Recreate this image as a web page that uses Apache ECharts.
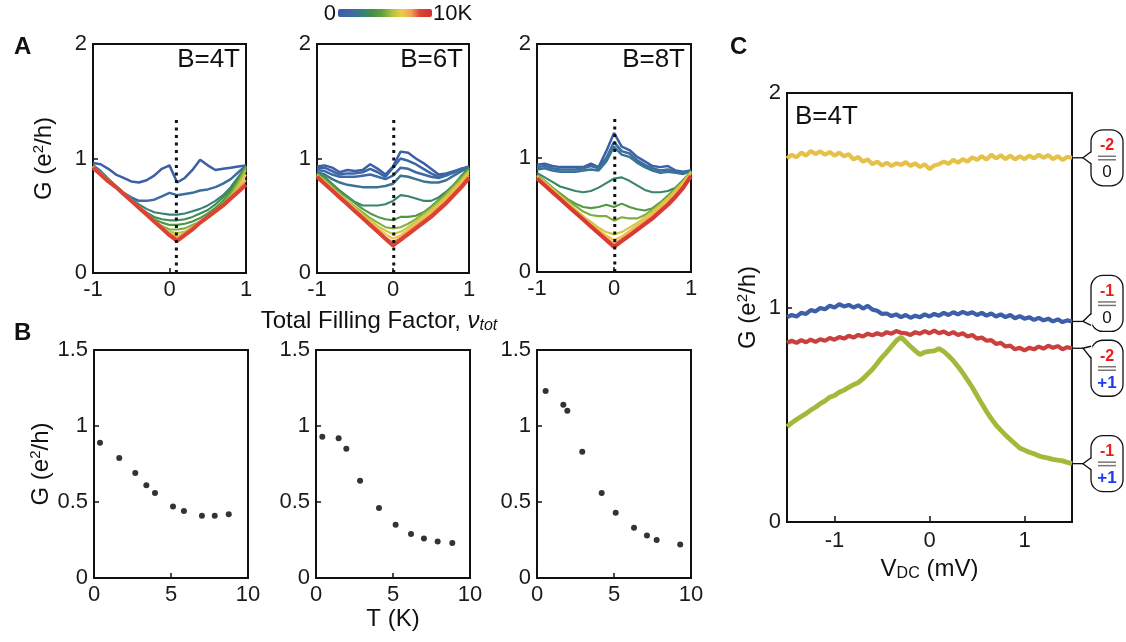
<!DOCTYPE html>
<html><head><meta charset="utf-8">
<script src="https://cdn.jsdelivr.net/npm/echarts@6/dist/echarts.min.js"></script>
<style>html,body{margin:0;padding:0;background:#fff}#c{width:1126px;height:642px}</style>
</head><body><div id="c"></div>
<script>
// ---------------- DATA ----------------
const A_NU = [-1,-0.9,-0.8,-0.7,-0.6,-0.5,-0.4,-0.3,-0.2,-0.1,0,0.1,0.2,0.3,0.4,0.5,0.6,0.7,0.8,0.9,1];
const A_FIELDS = ['B=4T','B=6T','B=8T'];
const A_DOT_NU = [0.09, 0.01, 0.01];
const A_DOT_TOP = 1.35;

const A1_T = [0.4,1.6,2.7,3.4,4.0,5.1,5.8,7.0,7.8,8.8];
const A1_G = [
 [.96,.95,.91,.86,.83,.80,.79,.81,.85,.91,.94,.79,.83,.90,.99,.94,.90,.91,.92,.93,.94],
 [.94,.89,.82,.75,.70,.66,.63,.63,.64,.67,.70,.68,.69,.70,.72,.73,.75,.78,.82,.88,.94],
 [.93,.88,.82,.76,.70,.65,.60,.56,.53,.52,.51,.51,.52,.54,.56,.59,.63,.68,.75,.84,.93],
 [.93,.88,.82,.76,.70,.64,.58,.53,.49,.47,.46,.46,.47,.49,.52,.55,.60,.66,.73,.82,.93],
 [.93,.87,.81,.76,.70,.64,.58,.52,.47,.44,.42,.42,.43,.45,.48,.52,.57,.63,.71,.81,.93],
 [.93,.87,.81,.76,.70,.64,.58,.52,.46,.41,.38,.38,.39,.42,.45,.50,.55,.61,.69,.80,.92],
 [.93,.87,.81,.75,.70,.64,.58,.52,.46,.40,.36,.35,.36,.40,.44,.48,.53,.59,.67,.77,.90],
 [.93,.87,.81,.75,.69,.63,.58,.52,.46,.40,.35,.32,.35,.39,.43,.48,.53,.58,.65,.74,.86],
 [.93,.87,.81,.75,.69,.63,.57,.51,.45,.39,.34,.30,.35,.40,.45,.50,.55,.60,.66,.73,.81],
 [.92,.86,.80,.75,.69,.63,.57,.51,.45,.39,.33,.28,.33,.38,.44,.49,.54,.59,.65,.71,.77]
];
const A2_T = [0.4,1.0,1.5,2.0,2.9,4.1,5.2,6.2,7.0,7.9,8.9];
const A2_G = [
 [.93,.94,.92,.88,.90,.89,.90,.95,.91,.86,.93,1.06,1.05,1.00,.96,.91,.86,.87,.89,.91,.92],
 [.92,.92,.89,.86,.87,.87,.88,.91,.88,.84,.92,1.00,.98,.95,.91,.87,.84,.86,.88,.91,.92],
 [.90,.89,.86,.84,.84,.84,.85,.86,.84,.82,.85,.92,.91,.88,.86,.84,.83,.85,.88,.91,.93],
 [.88,.86,.82,.79,.77,.76,.75,.75,.75,.76,.78,.85,.84,.82,.80,.79,.79,.81,.85,.89,.92],
 [.87,.84,.78,.72,.67,.62,.59,.59,.59,.60,.63,.68,.67,.65,.63,.63,.66,.71,.77,.85,.92],
 [.87,.83,.77,.71,.66,.61,.56,.52,.49,.47,.46,.49,.49,.50,.53,.58,.64,.70,.77,.84,.91],
 [.86,.81,.75,.69,.63,.58,.53,.48,.44,.40,.39,.40,.43,.47,.52,.57,.63,.69,.76,.83,.90],
 [.86,.80,.74,.68,.62,.57,.51,.46,.41,.37,.34,.36,.40,.45,.50,.55,.61,.67,.74,.81,.89],
 [.85,.80,.74,.68,.62,.56,.50,.44,.39,.34,.30,.33,.38,.43,.48,.53,.59,.65,.72,.79,.87],
 [.85,.79,.73,.67,.61,.55,.49,.43,.37,.31,.27,.31,.36,.41,.46,.51,.57,.63,.70,.77,.85],
 [.84,.78,.72,.66,.60,.54,.48,.42,.36,.30,.24,.29,.34,.39,.44,.49,.55,.61,.68,.75,.83]
];
const A3_T = [0.6,1.7,2.0,2.9,4.2,5.1,6.3,7.1,7.8,9.3];
const A3_G = [
 [.94,.95,.93,.92,.92,.92,.92,.95,.92,1.06,1.22,1.10,1.07,1.01,.97,.93,.92,.93,.89,.88,.89],
 [.92,.93,.91,.90,.90,.90,.91,.93,.91,1.00,1.14,1.06,1.04,.98,.94,.91,.89,.90,.88,.87,.89],
 [.90,.91,.89,.88,.88,.88,.89,.90,.89,.97,1.10,1.03,1.01,.96,.92,.89,.87,.88,.87,.86,.89],
 [.87,.83,.79,.75,.73,.71,.70,.71,.74,.78,.82,.83,.80,.76,.72,.70,.70,.71,.74,.80,.89],
 [.85,.80,.74,.69,.64,.60,.57,.56,.57,.59,.57,.60,.57,.55,.54,.56,.61,.67,.74,.81,.88],
 [.85,.80,.74,.68,.63,.58,.53,.50,.49,.49,.45,.48,.47,.47,.50,.55,.60,.66,.73,.80,.88],
 [.84,.79,.73,.67,.61,.55,.49,.44,.39,.35,.33,.35,.39,.43,.48,.53,.59,.65,.72,.79,.88],
 [.84,.78,.72,.66,.60,.54,.48,.42,.37,.32,.28,.31,.36,.41,.46,.51,.57,.63,.70,.78,.87],
 [.83,.77,.71,.65,.59,.53,.47,.41,.35,.30,.25,.29,.34,.39,.44,.49,.55,.61,.68,.76,.86],
 [.82,.76,.70,.64,.58,.52,.46,.40,.34,.28,.22,.27,.32,.37,.42,.47,.53,.59,.66,.74,.84]
];

const B1_T = [0.39,1.64,2.68,3.40,3.96,5.13,5.84,7.01,7.84,8.75];
const B1_G = [0.89,0.79,0.69,0.61,0.56,0.47,0.44,0.41,0.41,0.42];
const B2_T = [0.41,1.47,1.97,2.86,4.09,5.17,6.17,7.01,7.90,8.85];
const B2_G = [0.93,0.92,0.85,0.64,0.46,0.35,0.29,0.26,0.24,0.23];
const B3_T = [0.56,1.71,1.97,2.94,4.20,5.11,6.30,7.14,7.77,9.30];
const B3_G = [1.23,1.14,1.10,0.83,0.56,0.43,0.33,0.28,0.25,0.22];

const C_V = [-1.5,-1.45,-1.4,-1.35,-1.3,-1.25,-1.2,-1.15,-1.1,-1.05,
 -1.0,-0.95,-0.9,-0.85,-0.8,-0.75,-0.7,-0.65,-0.6,-0.55,
 -0.5,-0.45,-0.4,-0.35,-0.3,-0.25,-0.2,-0.15,-0.1,-0.05,
 0,0.05,0.1,0.15,0.2,0.25,0.3,0.35,0.4,0.45,
 0.5,0.55,0.6,0.65,0.7,0.75,0.8,0.85,0.9,0.95,
 1.0,1.05,1.1,1.15,1.2,1.25,1.3,1.35,1.4,1.45,1.5];
const C_YELLOW = [1.695,1.712,1.700,1.722,1.708,1.730,1.715,1.728,1.712,1.725,
 1.708,1.722,1.705,1.715,1.690,1.702,1.680,1.690,1.668,1.680,
 1.662,1.675,1.660,1.672,1.665,1.678,1.660,1.672,1.655,1.668,
 1.645,1.662,1.668,1.680,1.670,1.688,1.675,1.692,1.680,1.700,
 1.688,1.705,1.690,1.712,1.695,1.710,1.692,1.708,1.690,1.705,
 1.692,1.708,1.695,1.712,1.698,1.710,1.692,1.705,1.688,1.702,1.698];
const C_BLUE = [.955,.965,.958,.975,.970,.988,.982,.998,.992,1.008,
 1.000,1.015,1.005,1.012,1.000,1.010,.995,1.008,.990,.985,
 .970,.972,.960,.968,.955,.965,.952,.962,.955,.968,
 .958,.970,.962,.975,.965,.978,.968,.980,.970,.978,
 .965,.975,.962,.972,.958,.968,.955,.965,.950,.960,
 .948,.955,.942,.952,.940,.948,.935,.945,.932,.940,.935];
const C_RED = [.835,.845,.835,.848,.838,.850,.840,.852,.845,.858,
 .850,.862,.855,.868,.860,.872,.865,.878,.870,.880,
 .872,.885,.878,.890,.882,.880,.872,.885,.878,.890,
 .880,.892,.880,.888,.875,.885,.872,.880,.865,.872,
 .855,.860,.845,.848,.830,.835,.818,.822,.805,.812,
 .800,.812,.805,.818,.808,.822,.812,.820,.805,.815,.810];
const C_GREEN = [.445,.462,.478,.492,.505,.522,.535,.552,.565,.582,
 .590,.605,.615,.628,.640,.650,.668,.690,.712,.740,
 .768,.792,.818,.845,.862,.840,.818,.798,.780,.792,
 .795,.798,.808,.795,.775,.752,.725,.695,.662,.628,
 .590,.552,.515,.482,.452,.428,.405,.385,.365,.345,
 .335,.325,.318,.308,.302,.298,.292,.288,.285,.278,.272];
const C_LABELS = [['-2','0'],['-1','0'],['-2','+1'],['-1','+1']];
const C_FIELD = 'B=4T';

// ---------------- STYLE ----------------
const FONT = "'Liberation Sans', Arial, Helvetica, sans-serif";
const TICK_FS = 22, TITLE_FS = 24;
const T_MAX = 10;
const CMAP = [[0,'#3b5ba9'],[0.15,'#3d6aa6'],[0.25,'#357f80'],[0.35,'#3f8f4a'],[0.47,'#62a040'],
  [0.58,'#b3c23c'],[0.68,'#eccb4a'],[0.78,'#eea052'],[0.87,'#dc4436'],[1,'#d62f2f']];
function hex2rgb(h){return [1,3,5].map(i=>parseInt(h.substr(i,2),16));}
function cmap(t){
  t=Math.max(0,Math.min(1,t));
  for(let i=1;i<CMAP.length;i++){
    if(t<=CMAP[i][0]){
      const a=CMAP[i-1],b=CMAP[i],f=(t-a[0])/(b[0]-a[0]);
      const ca=hex2rgb(a[1]),cb=hex2rgb(b[1]);
      return 'rgb('+ca.map((v,k)=>Math.round(v+(cb[k]-v)*f)).join(',')+')';
    }
  }
  return CMAP[CMAP.length-1][1];
}
const C_COLORS = ['#e6c14a','#3d5fa9','#c9403f','#a3b93a'];
const C_WIDTHS = [4.2,4.2,4.2,4.8];
const BUBBLE_DY = [0,-18,20,0];

const GRIDS = [
 {left:93, top:44, width:153, height:229},
 {left:317,top:44, width:152, height:229},
 {left:537,top:44, width:154, height:228},
 {left:94, top:350,width:154, height:228},
 {left:316,top:350,width:154, height:228},
 {left:537,top:350,width:154, height:228},
 {left:787,top:93, width:285, height:429}
];

const chart = echarts.init(document.getElementById('c'));
const richG = {sup:{fontSize:15, fontFamily:FONT, color:'#111', padding:[0,0,11,0]}};
const nameStyle = (rich)=>({fontSize:TITLE_FS, fontFamily:FONT, color:'#111', rich});
function ax(gi, min, max, interval, extra){
  const o = {type:'value', gridIndex:gi, min, max, interval,
    splitLine:{show:false},
    axisLine:{show:true, onZero:false, lineStyle:{color:'#111', width:2}},
    axisTick:{show:true, inside:true, length:5, lineStyle:{color:'#111', width:1.5}},
    axisLabel:{color:'#1a1a1a', fontSize:TICK_FS, fontFamily:FONT, margin:6}};
  return Object.assign(o, extra||{});
}
const xAxis=[], yAxis=[], series=[];
const grid = GRIDS.map(g=>Object.assign({show:true, borderColor:'#111', borderWidth:2, containLabel:false}, g));

// Panel A
const AT=[A1_T,A2_T,A3_T], AG=[A1_G,A2_G,A3_G];
for(let p=0;p<3;p++){
  xAxis.push(ax(p,-1,1,1));
  yAxis.push(ax(p,0,2,1, p===0?{name:'G (e{sup|2}/h)', nameLocation:'middle', nameGap:36, nameRotate:90,
     nameTextStyle:nameStyle(richG)}:{}));
  const Ts=AT[p], Gs=AG[p];
  Gs.forEach((row,i)=>{
    const last = i===Gs.length-1;
    series.push({type:'line', xAxisIndex:p, yAxisIndex:p, showSymbol:false, silent:true,
      data:A_NU.map((x,j)=>[x,row[j]]),
      lineStyle:{width:last?4:(Ts[i]<2.2?2.5:2.1), color:cmap(Ts[i]/T_MAX)}, itemStyle:{color:cmap(Ts[i]/T_MAX)}});
  });
  series.push({type:'line', xAxisIndex:p, yAxisIndex:p, showSymbol:false, silent:true, z:5,
    data:[[A_DOT_NU[p],0],[A_DOT_NU[p],A_DOT_TOP]],
    lineStyle:{color:'#111', width:3, type:[3,4.5]}});
}
// Panel B
const BT=[B1_T,B2_T,B3_T], BG=[B1_G,B2_G,B3_G];
for(let p=0;p<3;p++){
  const gi=3+p;
  xAxis.push(ax(gi,0,10,5, p===1?{name:'T (K)', nameLocation:'middle', nameGap:29,
     nameTextStyle:nameStyle()}:{}));
  yAxis.push(ax(gi,0,1.5,0.5, p===0?{name:'G (e{sup|2}/h)', nameLocation:'middle', nameGap:40, nameRotate:90,
     nameTextStyle:nameStyle(richG)}:{}));
  series.push({type:'scatter', xAxisIndex:gi, yAxisIndex:gi, symbolSize:6, silent:true,
    itemStyle:{color:'#000'}, data:BT[p].map((t,j)=>[t,BG[p][j]])});
}
// Panel C
xAxis.push(ax(6,-1.5,1.5,0.5,{name:'V{sub|DC} (mV)', nameLocation:'middle', nameGap:33,
  nameTextStyle:nameStyle({sub:{fontSize:16, fontFamily:FONT, color:'#111', padding:[10,0,0,0]}}),
  axisLabel:{color:'#1a1a1a', fontSize:TICK_FS, fontFamily:FONT, margin:8, customValues:[-1,0,1]},
  axisTick:{show:true, inside:true, length:6, lineStyle:{color:'#111', width:1.5}, customValues:[-1,0,1]}}));
yAxis.push(ax(6,0,2,1,{name:'G (e{sup|2}/h)', nameLocation:'middle', nameGap:26, nameRotate:90,
  nameTextStyle:nameStyle(richG)}));
const C_SER=[C_YELLOW,C_BLUE,C_RED,C_GREEN];
C_SER.forEach((arr,k)=>{
  series.push({type:'line', xAxisIndex:6, yAxisIndex:6, showSymbol:false, silent:true,
    data:C_V.map((v,j)=>[v,arr[j]]), lineStyle:{width:C_WIDTHS[k], color:C_COLORS[k]}, itemStyle:{color:C_COLORS[k]}});
});

chart.setOption({animation:false, backgroundColor:'#fff', grid, xAxis, yAxis, series});

// ---------------- Graphic overlays ----------------
const gr=[];
function txt(x,y,text,font,align,va,extra){gr.push({type:'text', x, y, silent:true, z:100,
  style:Object.assign({text, font, fill:'#111', align, verticalAlign:va}, extra||{})});}
txt(14,35,'A','bold 24px '+FONT,'left','top');
txt(14,321,'B','bold 24px '+FONT,'left','top');
txt(730,35,'C','bold 24px '+FONT,'left','top');
for(let p=0;p<3;p++){
  const g=GRIDS[p];
  txt(g.left+g.width-6, g.top+3, A_FIELDS[p], '26px '+FONT, 'right','top');
}
txt(GRIDS[6].left+8, GRIDS[6].top+11, C_FIELD, '26px '+FONT, 'left','top');
txt(379,321,'Total Filling Factor, {nu|ν}{sub|tot}',TITLE_FS+'px '+FONT,'center','middle',
  {rich:{nu:{font:'italic '+TITLE_FS+'px '+FONT, fill:'#111'}, sub:{font:'italic 16px '+FONT, fill:'#111', padding:[10,0,0,0]}}});
// colorbar
gr.push({type:'rect', silent:true, z:100, shape:{x:338,y:9,width:94,height:8,r:2},
  style:{fill:new echarts.graphic.LinearGradient(0,0,1,0, CMAP.map(s=>({offset:s[0],color:s[1]})))}});
txt(336,14,'0','22px '+FONT,'right','middle');
txt(433,14,'10K','22px '+FONT,'left','middle');

// bubbles on panel C
const bx0=1091, bw=32, bh=56;
C_SER.forEach((arr,k)=>{
  const end = chart.convertToPixel({gridIndex:6},[C_V[C_V.length-1], arr[arr.length-1]]);
  const ye=end[1], yc=ye+BUBBLE_DY[k];
  const yb=Math.max(yc-16,Math.min(yc+16,ye));
  gr.push({type:'rect', silent:true, z:100, shape:{x:bx0,y:yc-bh/2,width:bw,height:bh,r:12},
    style:{fill:'#fff', stroke:'#111', lineWidth:1.3}});
  gr.push({type:'polygon', silent:true, z:101, shape:{points:[[1083,ye],[bx0+1.5,yb-6],[bx0+1.5,yb+6]]},
    style:{fill:'#fff', stroke:null}});
  gr.push({type:'polyline', silent:true, z:102, shape:{points:[[bx0,yb-6],[1083,ye],[bx0,yb+6]]},
    style:{stroke:'#111', lineWidth:1.3, fill:null}});
  gr.push({type:'line', silent:true, z:102, shape:{x1:end[0],y1:ye,x2:1083,y2:ye}, style:{stroke:'#111', lineWidth:1.3}});
  const cx=bx0+bw/2;
  gr.push({type:'line', silent:true, z:102, shape:{x1:cx-9,y1:yc-1.5,x2:cx+9,y2:yc-1.5}, style:{stroke:'#777', lineWidth:1.5}});
  gr.push({type:'line', silent:true, z:102, shape:{x1:cx-9,y1:yc+2,x2:cx+9,y2:yc+2}, style:{stroke:'#777', lineWidth:1.5}});
  txt(cx, yc-12, C_LABELS[k][0], 'bold 16px '+FONT, 'center','middle',{fill:'#ee1c1c'});
  const isZero = C_LABELS[k][1]==='0';
  txt(cx, yc+15, C_LABELS[k][1], (isZero?'':'bold ')+'17px '+FONT, 'center','middle',{fill:isZero?'#111':'#1c3cee'});
});
chart.setOption({graphic:gr});
</script></body></html>
